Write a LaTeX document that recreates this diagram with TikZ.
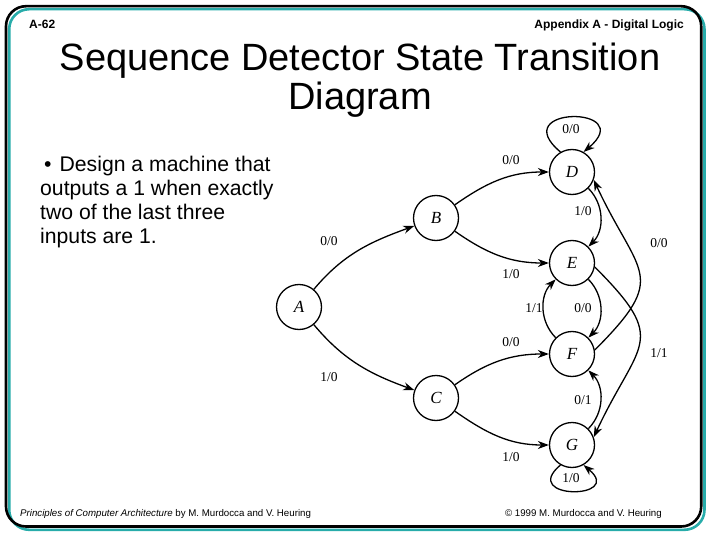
\documentclass[tikz,border=0pt]{standalone}
\usepackage{fontspec}
\setmainfont{Liberation Sans}
\newfontfamily\diagfont{Liberation Serif}
\usetikzlibrary{arrows.meta, positioning}
\definecolor{frameteal}{RGB}{40,172,170}

\begin{document}
\begin{tikzpicture}[
    x=1pt, y=1pt,
    state/.style={circle, draw, line width=1.3pt, minimum size=45pt, inner sep=0pt, font=\diagfont\itshape\fontsize{17}{17}\selectfont},
    trans/.style={-{Stealth[length=11pt, width=8pt, inset=3.5pt]}, line width=1.3pt},
    lbl/.style={font=\diagfont\fontsize{13.5}{13.5}\selectfont, inner sep=0pt},
    frame/.style={rounded corners=20pt, line width=2.6pt}
]
\useasboundingbox (0,0) rectangle (720,-540);

% slide frame
\draw[frame, frameteal] (9.2,-9.2) rectangle (704.5,-529.8);
\draw[frame, black] (6,-6.2) rectangle (701.2,-526.5);

% header and title
\node[anchor=base west, font=\bfseries\fontsize{12}{12}\selectfont, inner sep=0pt] (page) at (29,-29) {A-62};
\node[anchor=base east, font=\bfseries\fontsize{12}{12}\selectfont, inner sep=0pt] (chapter) at (684,-29) {Appendix A - Digital Logic};
\node[anchor=base, font=\fontsize{38}{38}\selectfont, inner sep=0pt] (title) at (360,-71) {Sequence Detector State Transition};
\node[anchor=base, font=\fontsize{38}{38}\selectfont, inner sep=0pt] (title2) at (360,-110) {Diagram};

% problem statement
\node[anchor=north west, align=left, inner sep=0pt, font=\fontsize{21.2}{24}\selectfont] (task) at (40,-155.5)
    {\hspace*{4pt}•\hspace{8pt}Design a machine that\\outputs a 1 when exactly\\two of the last three\\inputs are 1.};

% states
\node[state] (A) at (299,-307) {A};
\node[state] (B) at (436,-218) {B};
\node[state] (C) at (436,-398) {C};
\node[state] (D) at (572,-172) {D};
\node[state] (E) at (572,-263) {E};
\node[state] (F) at (572,-354) {F};
\node[state] (G) at (572,-445) {G};

% transitions
\draw[trans] (A) to[out=50, in=200] (B);
\draw[trans] (A) to[out=-50, in=160] (C);
\draw[trans] (B) to[out=35, in=180] (D);
\draw[trans] (B) to[out=-35, in=180] (E);
\draw[trans] (C) to[out=35, in=180] (F);
\draw[trans] (C) to[out=-35, in=180] (G);
\draw[trans] (D.120) to[out=140, in=40, looseness=8] (D.60);
\draw[trans] (G.240) to[out=220, in=320, looseness=6] (G.300);
\draw[trans] (D) to[bend left=45] (E);
\draw[trans] (E) to[bend left=45] (F);
\draw[trans] (F) to[bend left=45] (E);
\draw[trans] (G) to[bend right=45] (F);
\draw[trans] (F.10) to[out=45, in=-65, looseness=1.6] (D.-20);
\draw[trans] (E.-10) to[out=-45, in=65, looseness=1.6] (G.20);

% input/output labels
\node[lbl] (lAB) at (329,-241) {0/0};
\node[lbl] (lAC) at (329,-377) {1/0};
\node[lbl] (lBD) at (511,-160) {0/0};
\node[lbl] (lBE) at (511,-274) {1/0};
\node[lbl] (lCF) at (511,-342) {0/0};
\node[lbl] (lCG) at (511,-457) {1/0};
\node[lbl] (lDD) at (571,-129) {0/0};
\node[lbl] (lDE) at (583,-211) {1/0};
\node[lbl] (lFE) at (534,-308) {1/1};
\node[lbl] (lEF) at (583,-308) {0/0};
\node[lbl] (lFD) at (659,-243) {0/0};
\node[lbl] (lEG) at (659,-353) {1/1};
\node[lbl] (lGF) at (583,-400) {0/1};
\node[lbl] (lGG) at (571,-478) {1/0};

% footer
\node[anchor=base west, font=\fontsize{9.7}{10}\selectfont, inner sep=0pt] (book) at (20,-516)
    {\textit{Principles of Computer Architecture} by M. Murdocca and V. Heuring};
\node[anchor=base east, font=\fontsize{9.7}{10}\selectfont, inner sep=0pt] (copyright) at (662,-516)
    {© 1999 M. Murdocca and V. Heuring};
\end{tikzpicture}
\end{document}
